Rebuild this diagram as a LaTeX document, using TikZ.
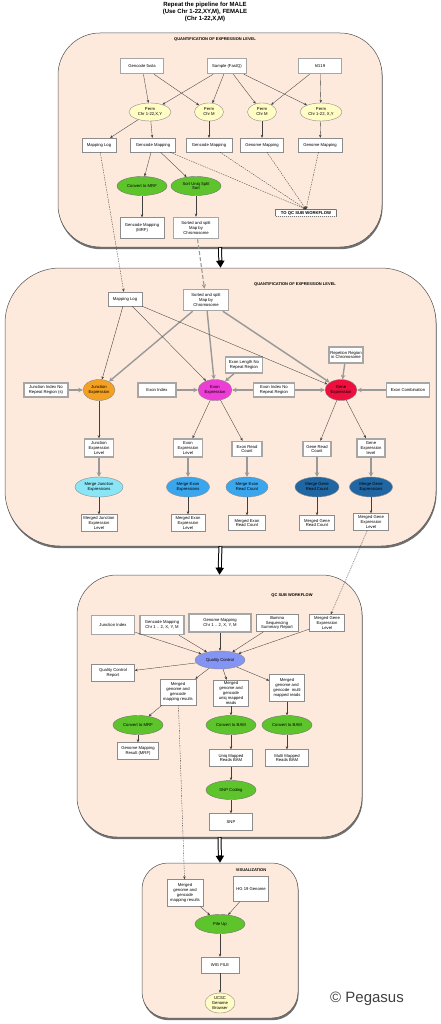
\documentclass[tikz,border=0pt]{standalone}
\usepackage{fontspec}
\setmainfont{Liberation Sans}
\usetikzlibrary{arrows.meta,positioning,shapes.geometric,shadows}
\definecolor{ppeach}{HTML}{FDEADC}
\definecolor{pyel}{HTML}{FFFCC4}
\definecolor{pgreen}{HTML}{5EC42C}
\definecolor{porange}{HTML}{F4A020}
\definecolor{pmag}{HTML}{EE3CD6}
\definecolor{pred}{HTML}{EE0F3E}
\definecolor{pcyan}{HTML}{8AE6F6}
\definecolor{pblue}{HTML}{3AA6EE}
\definecolor{pnavy}{HTML}{1F66A2}
\definecolor{pqc}{HTML}{8494F2}
\definecolor{pedge}{HTML}{505050}
\newcommand{\nodefont}{\fontsize{4.2}{4.9}\selectfont}
\tikzset{
  sect/.style={draw=pedge,fill=ppeach,line width=0.5pt,inner sep=0pt,drop shadow={shadow xshift=0.6pt,shadow yshift=-2.2pt,opacity=.7,fill=black!80}},
  ttl/.style={font=\fontsize{4}{5}\selectfont\bfseries},
  box/.style={draw=black!45,fill=white,line width=0.4pt,align=center,font=\nodefont,inner sep=1pt,minimum height=14pt},
  gbox/.style={box,draw=black!35,line width=1.5pt},
  ell/.style={ellipse,draw=black!45,line width=0.4pt,align=center,font=\nodefont,inner sep=0pt,minimum height=19pt},
  perm/.style={ell,fill=pyel,minimum width=29pt,minimum height=18pt},
  grn/.style={ell,fill=pgreen,draw=black!55,minimum width=50pt},
  arr/.style={-{Stealth[length=3pt,width=2.5pt]},draw=black!75,line width=0.35pt},
  garr/.style={-{Stealth[length=4.5pt,width=4.5pt]},draw=black!40,line width=1.4pt},
  darr/.style={arr,dash pattern=on 1.5pt off 1pt},
  gdarr/.style={garr,line width=1.1pt,dash pattern=on 4pt off 2pt},
  big/.style={-{Triangle[length=7pt,width=8pt]},line width=4pt,draw=black},
}
\begin{document}
\begin{tikzpicture}[x=1pt,y=-1pt]
  \useasboundingbox (0,0) rectangle (441,1024);
  % sections
  \node[sect,rounded corners=42pt,minimum width=324pt,minimum height=214pt] (s1) at (220,140) {};
  \node[sect,rounded corners=55pt,minimum width=431pt,minimum height=278pt] (s2) at (220.5,407) {};
  \node[sect,rounded corners=40pt,minimum width=285pt,minimum height=262pt] (s3) at (219.5,706) {};
  \node[sect,rounded corners=26pt,minimum width=156pt,minimum height=155pt] (s4) at (220,940.5) {};
  \foreach \a/\b in {s1/s2,s2/s3,s3/s4} {
    \draw[big] (\a.south) -- (\b.north);
    \draw[white,line width=2pt,shorten >=7.5pt,shorten <=0.6pt] (\a.south) -- (\b.north);
  }
  \node[align=center,font=\fontsize{6}{7}\selectfont\bfseries] (head) at (205,12) {Repeat the pipeline for MALE\\(Use Chr 1-22,XY,M), FEMALE\\(Chr 1-22,X,M)};
  \node[ttl] (t1) at (215,40) {QUANTIFICATION OF EXPRESSION LEVEL};
  \node[ttl] (t2) at (295,284) {QUANTIFICATION OF EXPRESSION LEVEL};
  \node[ttl] (t3) at (292,595) {QC SUB WORKFLOW};
  \node[ttl] (t4) at (251,870) {VISUALIZATION};
  % mapping
  \node[gbox,minimum width=43pt,minimum height=15pt] (fa) at (142,66) {Gencode fasta};
  \node[gbox,minimum width=39pt,minimum height=15pt] (sq) at (227,66) {Sample (FastQ)};
  \node[gbox,minimum width=43pt,minimum height=15pt] (hg) at (320,66) {hG19};
  \node[perm,minimum width=42pt] (p1) at (150,112) {Perm\\Chr 1-22,X,Y};
  \node[perm] (p2) at (209,112) {Perm\\Chr M};
  \node[perm] (p3) at (262,112) {Perm\\Chr M};
  \node[perm,minimum width=42pt] (p4) at (321,112) {Perm\\Chr 1-22, X,Y};
  \foreach \a/\b in {fa/p1,fa/p2,sq/p1,sq/p2,sq/p3,sq/p4,hg/p3,hg/p4} { \draw[arr] (\a) -- (\b); }
  \node[box,minimum width=34pt] (ml) at (99,145) {Mapping Log};
  \node[box,minimum width=45pt] (gm1) at (153,145) {Gencode Mapping};
  \node[box,minimum width=46pt] (gm2) at (209,145) {Gencode Mapping};
  \node[box,minimum width=43pt] (gn1) at (262,145) {Genome Mapping};
  \node[box,minimum width=44pt] (gn2) at (320,145) {Genome Mapping};
  \foreach \a/\b in {p1/ml,p1/gm1,p2/gm2,p3/gn1,p4/gn2} { \draw[arr] (\a) -- (\b); }
  \node[grn] (mrf) at (142,186) {Convert to MRF};
  \node[grn] (sus) at (196,186) {Sort Uniq Split\\Sort};
  \node[box,draw=black!55,dash pattern=on 1.2pt off 0.8pt,minimum height=7pt,minimum width=61pt,font=\nodefont\bfseries] (toqc) at (306,213) {TO QC SUB WORKFLOW};
  \node[box,minimum width=44pt,minimum height=21pt] (gmm) at (142,228) {Gencode Mapping\\(MRF)};
  \node[gbox,minimum width=45pt,minimum height=21pt] (srt) at (196,228) {Sorted and split\\Map by\\Chromosome};
  \draw[arr] (gm1) -- (mrf); \draw[arr] (gm1) -- (sus);
  \draw[arr] (mrf) -- (gmm); \draw[arr] (sus) -- (srt);
  \foreach \a in {gm1,gm2,gn1,gn2} { \draw[darr] (\a) -- (toqc.north); }
  % quantification
  \node[box,minimum width=34pt] (ml2) at (125,299) {Mapping Log};
  \node[gbox,minimum width=45pt,minimum height=21pt] (srt2) at (206,300) {Sorted and split\\Map by\\Chromosome};
  \draw[darr] (ml) -- (ml2); \draw[gdarr] (srt) -- (srt2);
  \node[gbox,minimum width=37pt,minimum height=16pt] (el) at (244,365) {Exon Length No\\Repeat Region};
  \node[gbox,minimum width=34pt,minimum height=16pt] (rr) at (346,355) {Repetion Region\\in Chromosome};
  \node[gbox,minimum width=44pt] (ji) at (46,390) {Junction Index No\\Repeat Region (s)};
  \node[ell,fill=porange,minimum width=32pt,minimum height=21pt] (je) at (99,390) {Junction\\Expression};
  \node[gbox,minimum width=38pt] (ei) at (157,390) {Exon Index};
  \node[ell,fill=pmag,minimum width=34pt,minimum height=21pt] (ee) at (215,390) {Exon\\Expression};
  \node[gbox,minimum width=41pt] (en) at (274,390) {Exon Index No\\Repeat Region};
  \node[ell,fill=pred,minimum width=32pt,minimum height=21pt] (ge) at (341,390) {Gene\\Expression};
  \node[gbox,minimum width=43pt] (ec) at (408,390) {Exon Combination};
  \foreach \b in {je,ee,ge} { \draw[arr] (ml2) -- (\b); \draw[garr] (srt2) -- (\b); }
  \foreach \a/\b in {ji/je,ei/ee,en/ee,en/ge,ec/ge,el/ee,rr/ge} { \draw[garr] (\a) -- (\b); }
  \node[gbox,minimum width=29pt,minimum height=18pt] (jl) at (99,448) {Junction\\Expression\\Level};
  \node[gbox,minimum width=29pt,minimum height=18pt] (elv) at (188,448) {Exon\\Expression\\Level};
  \node[gbox,minimum width=30pt,minimum height=15pt] (erc) at (247,449) {Exon Read\\Count};
  \node[gbox,minimum width=28pt,minimum height=15pt] (grc) at (317,449) {Gene Read\\Count};
  \node[gbox,minimum width=28pt,minimum height=18pt] (gl) at (371,448) {Gene\\Expression\\level};
  \foreach \a/\b in {je/jl,ee/elv,ee/erc,ge/grc,ge/gl} { \draw[arr] (\a) -- (\b); }
  \node[ell,fill=pcyan,minimum width=48pt,minimum height=20pt] (mj) at (99,487) {Merge Junction\\Expressions};
  \node[ell,fill=pblue,minimum width=43pt,minimum height=20pt] (me) at (188,487) {Merge Exon\\Expressions};
  \node[ell,fill=pblue,minimum width=42pt,minimum height=20pt] (mr) at (247,487) {Merge Exon\\Read Count};
  \node[ell,fill=pnavy,minimum width=44pt,minimum height=20pt] (mg) at (317,487) {Merge Gene\\Read Count};
  \node[ell,fill=pnavy,minimum width=43pt,minimum height=20pt] (mx) at (371,487) {Merge Gene\\Expressions};
  \foreach \a/\b in {jl/mj,elv/me,erc/mr,grc/mg,gl/mx} { \draw[garr] (\a) -- (\b); }
  \node[box,minimum width=36pt,minimum height=17pt] (xj) at (99,523) {Merged Junction\\Expression\\Level};
  \node[box,minimum width=34pt,minimum height=17pt] (xe) at (188,523) {Merged Exon\\Expression\\Level};
  \node[box,minimum width=37pt,minimum height=15pt] (xr) at (247,523) {Merged Exon\\Read Count};
  \node[box,minimum width=35pt,minimum height=15pt] (xg) at (317,523) {Merged Gene\\Read Count};
  \node[box,minimum width=35pt,minimum height=17pt] (xx) at (371,522) {Merged Gene\\Expression\\Level};
  \foreach \a/\b in {mj/xj,me/xe,mr/xr,mg/xg,mx/xx} { \draw[arr] (\a) -- (\b); }
  % qc
  \node[gbox,minimum width=43pt,minimum height=19pt] (qji) at (113,625) {Junction Index};
  \node[gbox,minimum width=44pt,minimum height=19pt] (qgc) at (162,625) {Gencode Mapping\\Chr 1 .. 2, X, Y, M};
  \node[gbox,minimum width=62pt,minimum height=18pt] (qgn) at (220,623) {Genome Mapping\\Chr 1 .. 2, X, Y, M};
  \node[box,minimum width=42pt,minimum height=17pt] (qil) at (277,623) {Illumina\\Sequencing\\Summary Report};
  \node[box,minimum width=35pt,minimum height=17pt] (qmg) at (327,623) {Merged Gene\\Expression\\Level};
  \draw[darr] (xx) -- (qmg);
  \node[ell,fill=pqc,minimum width=50pt,minimum height=18pt] (qc) at (220,660) {Quality Control};
  \foreach \a in {qji,qgc,qgn,qil,qmg} { \draw[arr] (\a) -- (qc); }
  \node[box,minimum width=43pt,minimum height=17pt] (qr) at (113,673) {Quality Control\\Report};
  \node[box,minimum width=36pt,minimum height=26pt] (qm1) at (178,692) {Merged\\genome and\\gencode\\mapping results};
  \node[box,minimum width=35pt,minimum height=26pt] (qm2) at (231,693) {Merged\\genome and\\gencode\\uniq mapped\\reads};
  \node[box,minimum width=35pt,minimum height=27pt] (qm3) at (287,688) {Merged\\genome and\\gencode\ \ multi\\mapped reads};
  \foreach \b in {qr,qm1,qm2,qm3} { \draw[arr] (qc) -- (\b); }
  \node[grn] (cm) at (138,725) {Convert to MRF};
  \node[grn] (cb1) at (231,725) {Convert to BAM};
  \node[grn] (cb2) at (287,725) {Convert to BAM};
  \node[box,minimum width=41pt,minimum height=17pt] (gmr) at (138,751) {Genome Mapping\\Result (MRF)};
  \node[box,minimum width=43pt,minimum height=17pt] (ub) at (231,758) {Uniq Mapped\\Reads BAM};
  \node[box,minimum width=43pt,minimum height=17pt] (mb) at (287,758) {Multi Mapped\\Reads BAM};
  \node[grn] (snc) at (231,790) {SNP Coding};
  \node[box,minimum width=43pt,minimum height=17pt] (snp) at (231,822) {SNP};
  \foreach \a/\b in {qm1/cm,qm2/cb1,qm3/cb2,cm/gmr,cb1/ub,cb2/mb,ub/snc,snc/snp} { \draw[arr] (\a) -- (\b); }
  % visualization
  \node[box,minimum width=36pt,minimum height=27pt] (vm) at (185,893) {Merged\\genome and\\gencode\\mapping results};
  \node[box,minimum width=35pt,minimum height=25pt] (vh) at (251,889) {HG 19 Genome};
  \draw[darr] (qm1) -- (vm);
  \node[grn,minimum height=19pt] (pu) at (220,924) {Pile Up};
  \node[box,minimum width=38pt,minimum height=16pt] (wig) at (220,965) {WIG FILE};
  \node[perm,minimum width=30pt,minimum height=20pt] (ucsc) at (220,1003) {UCSC\\Genome\\Browser};
  \foreach \a/\b in {vm/pu,vh/pu,pu/wig,wig/ucsc} { \draw[arr] (\a) -- (\b); }
  \node[font=\fontsize{15}{16}\selectfont,text=black!75] (peg) at (367,999) {© Pegasus};
\end{tikzpicture}
\end{document}
